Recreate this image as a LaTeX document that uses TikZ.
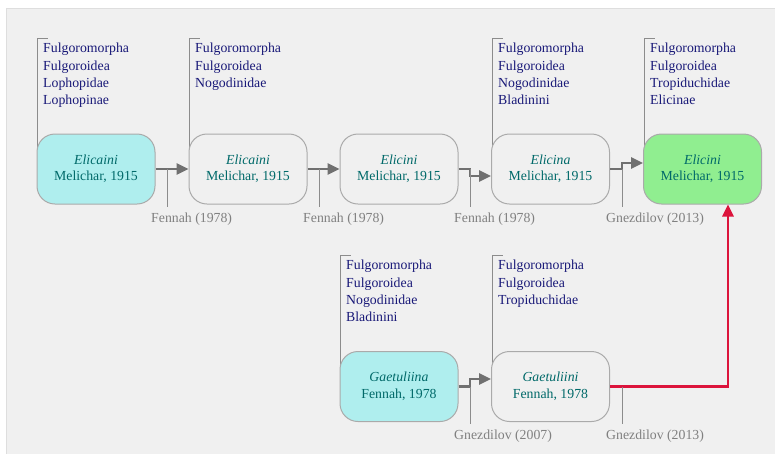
\documentclass[tikz,border=0pt]{standalone}
\usepackage{fontspec}
\setmainfont{Liberation Serif}
\usetikzlibrary{arrows.meta}

\definecolor{panel}{RGB}{240,240,240}
\definecolor{panelline}{RGB}{222,222,222}
\definecolor{nodeline}{RGB}{170,170,170}
\definecolor{taxtext}{RGB}{0,105,105}
\definecolor{ranktext}{RGB}{25,25,120}
\definecolor{authortext}{RGB}{128,128,128}
\definecolor{edgegray}{RGB}{112,112,112}
\definecolor{tickgray}{RGB}{140,140,140}
\definecolor{cyanfill}{RGB}{175,238,238}
\definecolor{greenfill}{RGB}{144,238,144}
\definecolor{redline}{RGB}{220,20,60}

\tikzset{
	taxon/.style = {draw = nodeline, fill = panel, line width = 1pt, rounded corners = 18pt,
		minimum width = 118pt, minimum height = 70pt, align = center, text = taxtext,
		font = \fontsize{13.8}{16.5}\selectfont},
	ranks/.style = {anchor = north west, inner xsep = 0pt, inner ysep = 5pt, align = left,
		text = ranktext, font = \fontsize{13.8}{17.4}\selectfont},
	author/.style = {anchor = west, inner sep = 0pt, text = authortext,
		font = \fontsize{13.8}{16}\selectfont},
	bracket/.style = {draw = tickgray, line width = 0.8pt},
	tick/.style = {draw = tickgray, line width = 0.8pt},
	edge/.style = {draw = edgegray, line width = 2.6pt},
	newedge/.style = {draw = redline, line width = 2.6pt}
}

\begin{document}
\begin{tikzpicture}[x = 1pt, y = -1pt, > = {Triangle[length = 12pt, width = 11pt]}]

	\useasboundingbox (0, 0) rectangle (775, 453);

	% Panel

	\fill [white] (0, 0) rectangle (775, 453);
	\filldraw [fill = panel, draw = panelline] (6, 8) rectangle (785, 465);

	% Ranks above the taxa

	\node [ranks] (r1) at (43, 38) {Fulgoromorpha\\Fulgoroidea\\Lophopidae\\Lophopinae};
	\node [ranks] (r2) at (195, 38) {Fulgoromorpha\\Fulgoroidea\\Nogodinidae};
	\node [ranks] (r4) at (498, 38) {Fulgoromorpha\\Fulgoroidea\\Nogodinidae\\Bladinini};
	\node [ranks] (r5) at (650, 38) {Fulgoromorpha\\Fulgoroidea\\Tropiduchidae\\Elicinae};
	\node [ranks] (r6) at (346, 255) {Fulgoromorpha\\Fulgoroidea\\Nogodinidae\\Bladinini};
	\node [ranks] (r7) at (498, 255) {Fulgoromorpha\\Fulgoroidea\\Tropiduchidae};

	% Brackets

	\draw [bracket] (37, 160) -- (37, 38) -- ++(11, 0);
	\draw [bracket] (189, 160) -- (189, 38) -- ++(11, 0);
	\draw [bracket] (492, 160) -- (492, 38) -- ++(11, 0);
	\draw [bracket] (644, 160) -- (644, 38) -- ++(11, 0);
	\draw [bracket] (340, 377) -- (340, 255) -- ++(11, 0);
	\draw [bracket] (492, 377) -- (492, 255) -- ++(11, 0);

	% Taxa

	\node [taxon, fill = cyanfill] (n1) at (96, 169) {\textit{Elicaini}\\Melichar, 1915};
	\node [taxon] (n2) at (248, 169) {\textit{Elicaini}\\Melichar, 1915};
	\node [taxon] (n3) at (399, 169) {\textit{Elicini}\\Melichar, 1915};
	\node [taxon] (n4) at (550.5, 169) {\textit{Elicina}\\Melichar, 1915};
	\node [taxon, fill = greenfill] (n5) at (702.5, 169) {\textit{Elicini}\\Melichar, 1915};
	\node [taxon, fill = cyanfill] (n6) at (399, 386.5) {\textit{Gaetuliina}\\Fennah, 1978};
	\node [taxon] (n7) at (550.5, 386.5) {\textit{Gaetuliini}\\Fennah, 1978};

	% Bends of the connectors

	\coordinate (k1) at (167, 169);
	\coordinate (k2) at (319, 169);
	\coordinate (k3) at (470, 176);
	\coordinate (k4) at (622, 163);
	\coordinate (k6) at (470, 379);
	\coordinate (k7) at (622, 386.5);
	\coordinate (k8) at (728, 386.5);

	% Connectors

	\draw [edge, ->] (n1.east) -- (n2.west);
	\draw [edge, ->] (n2.east) -- (n3.west);
	\draw [edge, ->] (n3.east) -| (k3) -- (k3 -| n4.west);
	\draw [edge, ->] (n4.east) -| (k4) -- (k4 -| n5.west);
	\draw [edge, ->] (n6.east) -| (k6) -- (k6 -| n7.west);
	\draw [newedge, ->] (n7.east) -- (k8) -- (k8 |- n5.south);

	% Ticks and authors

	\draw [tick] (k1) -- ++(0, 38);
	\draw [tick] (k2) -- ++(0, 38);
	\draw [tick] (n3.east -| k3) -- ++(0, 38);
	\draw [tick] (n4.east -| k4) -- ++(0, 38);
	\draw [tick] (n6.east -| k6) -- ++(0, 37);
	\draw [tick] (k7) -- ++(0, 37);

	\node [author] (a1) at (151, 219) {Fennah (1978)};
	\node [author] (a2) at (303, 219) {Fennah (1978)};
	\node [author] (a3) at (454, 219) {Fennah (1978)};
	\node [author] (a4) at (606, 219) {Gnezdilov (2013)};
	\node [author] (a6) at (454, 436) {Gnezdilov (2007)};
	\node [author] (a7) at (606, 436) {Gnezdilov (2013)};

\end{tikzpicture}
\end{document}
